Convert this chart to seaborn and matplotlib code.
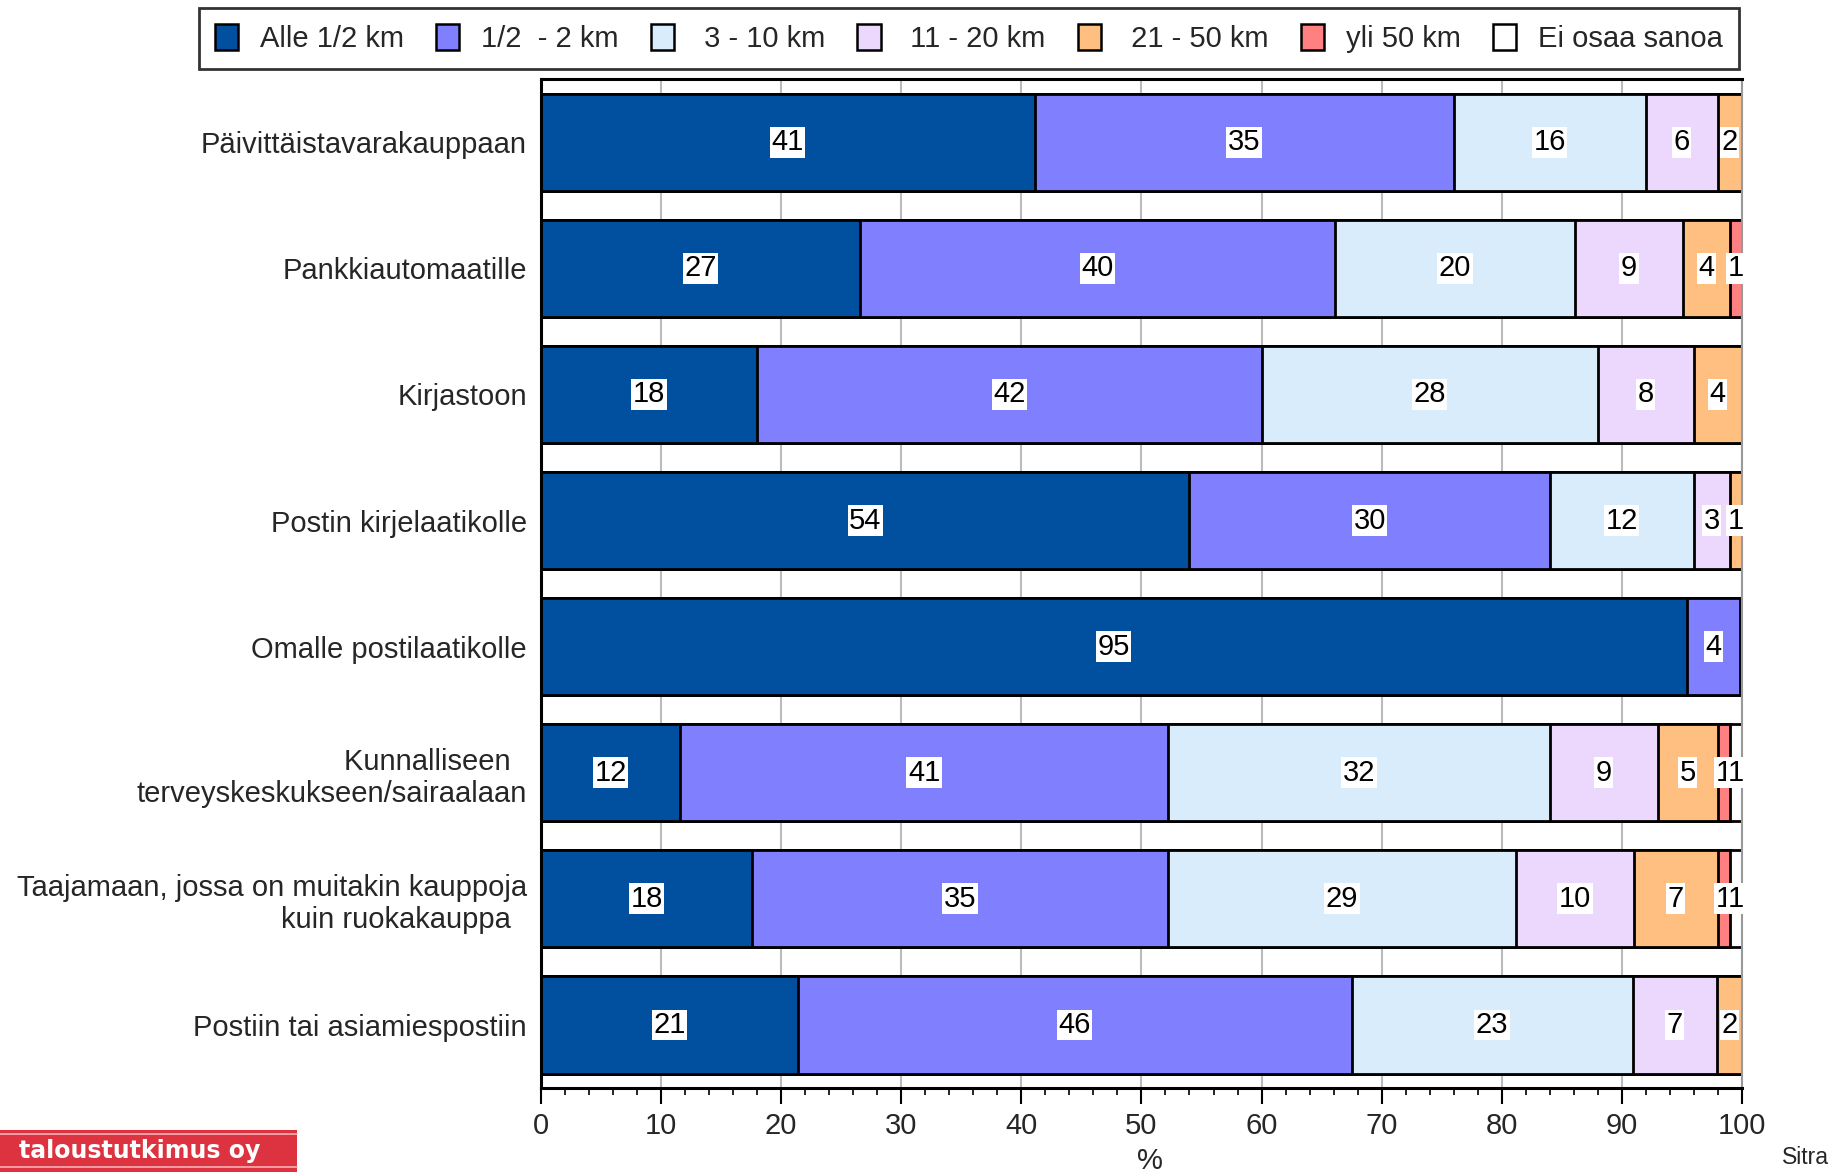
import matplotlib
matplotlib.use("Agg")
import matplotlib.pyplot as plt
from matplotlib.patches import Patch, Rectangle
from matplotlib.lines import Line2D
from matplotlib.ticker import MultipleLocator
import seaborn as sns
import numpy as np
import pandas as pd

# ---------------- data ----------------
categories = [
    "Päivittäistavarakauppaan",
    "Pankkiautomaatille",
    "Kirjastoon",
    "Postin kirjelaatikolle",
    "Omalle postilaatikolle",
    "Kunnalliseen  \nterveyskeskukseen/sairaalaan",
    "Taajamaan, jossa on muitakin kauppoja\nkuin ruokakauppa  ",
    "Postiin tai asiamiespostiin",
]
series_names = ["Alle 1/2 km", "1/2  - 2 km", " 3 - 10 km", " 11 - 20 km",
                " 21 - 50 km", "yli 50 km", "Ei osaa sanoa"]
alle_half = [41.1, 26.6, 18.0, 54.0, 95.4, 11.6, 17.6, 21.4]
half_to_2 = [34.9, 39.5, 42.0, 30.0, 4.4, 40.6, 34.6, 46.1]
km3_10    = [16.0, 20.0, 28.0, 12.0, 0.0, 31.8, 29.0, 23.4]
km11_20   = [6.0, 9.0, 8.0, 3.0, 0.0, 9.0, 9.8, 7.0]
km21_50   = [2.0, 3.9, 4.0, 1.0, 0.0, 5.0, 7.0, 2.1]
over_50   = [0.0, 1.0, 0.0, 0.0, 0.0, 1.0, 1.0, 0.0]
dont_know = [0.0, 0.0, 0.0, 0.0, 0.2, 1.0, 1.0, 0.0]
series = [alle_half, half_to_2, km3_10, km11_20, km21_50, over_50, dont_know]
colors = ["#00509F", "#8080FF", "#D9ECFC", "#EDD8FD", "#FFBF80", "#FF8080", "#FFFFFF"]
x_ticks = [0, 10, 20, 30, 40, 50, 60, 70, 80, 90, 100]

# ---------------- style ----------------
sns.set_style("white")
plt.rcParams["font.family"] = ["Liberation Sans", "DejaVu Sans"]

fig = plt.figure(figsize=(18.47, 11.75), dpi=100)
ax = fig.add_axes([0.2929, 0.0740, 0.6502, 0.8587])

vals = np.array(series)              # shape (7, 8)
cum = np.cumsum(vals, axis=0)        # cumulative per row

# draw cumulative bars from the largest down (stacked look)
for j in range(len(series) - 1, -1, -1):
    df = pd.DataFrame({"cat": categories, "val": cum[j]})
    sns.barplot(data=df, x="val", y="cat", order=categories, orient="h",
                color=colors[j], saturation=1, edgecolor="black", linewidth=2,
                width=0.77, errorbar=None, ax=ax, zorder=2)

# value labels
for j in range(len(series)):
    for i in range(len(categories)):
        v = vals[j, i]
        if v < 0.5:
            continue
        xc = cum[j, i] - v / 2
        ax.text(xc, i, f"{v:.0f}", ha="center", va="center", fontsize=21,
                color="black", zorder=5,
                bbox=dict(facecolor="white", edgecolor="none", pad=1.0))

ax.set_xlim(0, 100)
ax.set_ylim(len(categories) - 0.5, -0.5)
ax.set_xticks(x_ticks)
ax.set_xticklabels([str(t) for t in x_ticks], fontsize=21)
ax.xaxis.set_minor_locator(MultipleLocator(2))
ax.tick_params(axis="x", which="major", direction="out", length=11.5, width=1.5,
               color="black", pad=6, bottom=True)
ax.tick_params(axis="x", which="minor", direction="out", length=5, width=1.2,
               color="black", bottom=True)
ax.tick_params(axis="y", length=0, pad=10)
ax.set_yticks(range(len(categories)))
ax.set_yticklabels(categories, fontsize=21)
for t in ax.get_yticklabels():
    t.set_multialignment("right")

ax.set_ylabel("")
ax.set_xlabel("%", fontsize=21, labelpad=6)
ax.xaxis.set_label_coords(0.507, -0.058)

ax.xaxis.grid(True, color="#BBBBBB", linewidth=1.5, zorder=0)
ax.yaxis.grid(False)
ax.set_axisbelow(True)
for side in ["top", "left", "bottom"]:
    ax.spines[side].set_color("black")
    ax.spines[side].set_linewidth(2.2)
    ax.spines[side].set_visible(True)
ax.spines["right"].set_color("#999999")
ax.spines["right"].set_linewidth(1.5)

# legend
handles = [Patch(facecolor=c, edgecolor="black", linewidth=1.8) for c in colors]
leg = fig.legend(handles, series_names, ncol=7, loc="center",
                 bbox_to_anchor=(0.5245, 0.9675), frameon=True, fancybox=False,
                 edgecolor="black", fontsize=21, handlelength=0.8,
                 handleheight=1.0, handletextpad=0.75, columnspacing=1.1,
                 borderpad=0.55, borderaxespad=0)
leg.get_frame().set_linewidth(2)

# logo bottom-left
W, H = 1847.0, 1175.0
fig.patches.append(Rectangle((0, 1 - 1172 / H), 297 / W, 42 / H,
                             transform=fig.transFigure, facecolor="#DD3340",
                             edgecolor="none", zorder=1))
for yy in (1134, 1167):
    fig.lines.append(Line2D([0, 297 / W], [1 - yy / H, 1 - yy / H],
                            transform=fig.transFigure, color="#F3B0B5",
                            linewidth=1.2, zorder=2))
fig.text(140 / W, 1 - 1151 / H, "taloustutkimus oy", color="white",
         fontsize=17, fontweight="bold", ha="center", va="center",
         family=["DejaVu Sans"], zorder=3)

fig.text(1829 / W, 1 - 1158 / H, "Sitra", ha="right", va="center", fontsize=16.5)

fig.savefig("out.png", dpi=100)
